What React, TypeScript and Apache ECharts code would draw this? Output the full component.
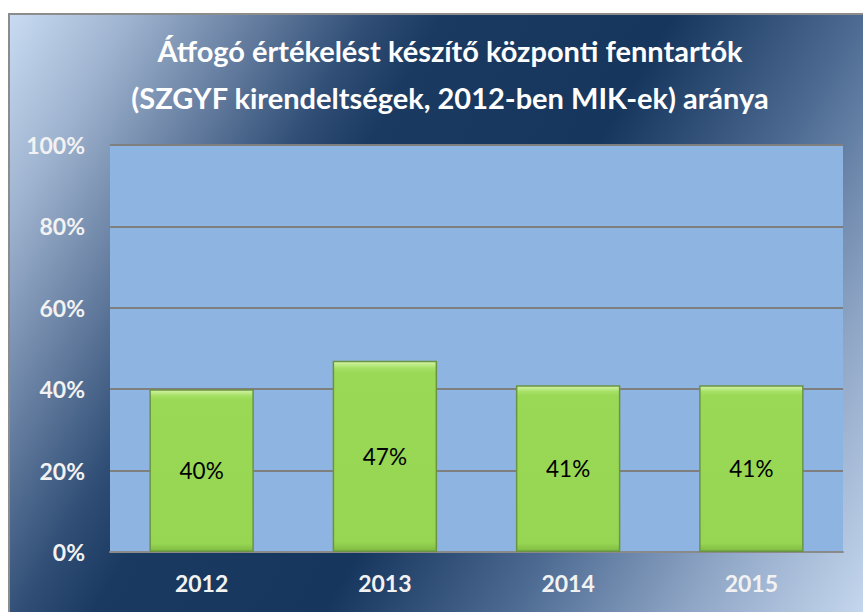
import React, { useEffect, useRef } from "react";
import * as echarts from "echarts";

const titleLines = [
  "Átfogó értékelést készítő központi fenntartók",
  "(SZGYF kirendeltségek, 2012-ben MIK-ek) aránya",
];
const years = ["2012", "2013", "2014", "2015"];
const shares = [40, 47, 41, 41];
const yTicks = [0, 20, 40, 60, 80, 100];

const FONT = "Lato, 'Open Sans', 'DejaVu Sans', sans-serif";

export default function App() {
  const ref = useRef<HTMLDivElement>(null);
  useEffect(() => {
    if (!ref.current) return;
    const chart = echarts.init(ref.current, undefined, { renderer: "svg" });
    chart.setOption({
      animation: false,
      backgroundColor: {
        type: "linear",
        x: 0,
        y: 0,
        x2: 897,
        y2: 526,
        global: true,
        colorStops: [
          { offset: 0, color: "#c8dbf2" },
          { offset: 0.1, color: "#9eb3cf" },
          { offset: 0.2, color: "#6880a2" },
          { offset: 0.3, color: "#2f4d75" },
          { offset: 0.36, color: "#1b3a62" },
          { offset: 0.55, color: "#17365d" },
          { offset: 0.7, color: "#4a6890" },
          { offset: 0.85, color: "#8ea5c5" },
          { offset: 1, color: "#c5d7ee" },
        ],
      },
      title: {
        text: titleLines.join("\n"),
        left: 435,
        top: 7,
        textAlign: "center",
        textStyle: {
          color: "#ffffff",
          fontFamily: FONT,
          fontWeight: "bold",
          fontSize: 29,
          lineHeight: 47,
        },
      },
      grid: {
        left: 100,
        top: 130,
        width: 733,
        height: 407,
        show: true,
        backgroundColor: "#8eb4e2",
        borderWidth: 0,
      },
      xAxis: {
        type: "category",
        data: years,
        axisLine: { show: true, lineStyle: { color: "#8a8a8a", width: 2 } },
        axisTick: { show: false },
        axisLabel: {
          color: "#f2f2f2",
          fontFamily: FONT,
          fontWeight: "bold",
          fontSize: 23,
          margin: 19,
        },
      },
      yAxis: {
        type: "value",
        min: yTicks[0],
        max: yTicks[yTicks.length - 1],
        interval: 20,
        axisLine: { show: false },
        axisTick: { show: false },
        splitLine: { show: true, lineStyle: { color: "#7f7f7f", width: 2 } },
        axisLabel: {
          color: "#f2f2f2",
          fontFamily: FONT,
          fontWeight: "bold",
          fontSize: 23,
          margin: 25,
          formatter: "{value}%",
        },
      },
      series: [
        {
          type: "bar",
          data: shares,
          barWidth: "57%",
          itemStyle: {
            color: {
              type: "linear",
              x: 0,
              y: 0,
              x2: 0,
              y2: 1,
              colorStops: [
                { offset: 0, color: "#d6f5a8" },
                { offset: 0.035, color: "#a6e066" },
                { offset: 0.06, color: "#99d955" },
                { offset: 0.95, color: "#97d653" },
                { offset: 1, color: "#7fba42" },
              ],
            },
            borderColor: "#6b9442",
            borderWidth: 1.5,
          },
          label: {
            show: true,
            position: "inside",
            formatter: "{c}%",
            color: "#000000",
            fontFamily: FONT,
            fontSize: 22.5,
          },
        },
      ],
    });
    return () => chart.dispose();
  }, []);
  return (
    <div
      style={{
        position: "fixed",
        left: 0,
        top: 0,
        width: 863,
        height: 612,
        overflow: "hidden",
        background: "#ffffff",
      }}
    >
      <div
        style={{
          position: "absolute",
          left: 8,
          top: 13,
          width: 880,
          height: 620,
          borderLeft: "2px solid #8c8c8c",
          borderTop: "2px solid #8c8c8c",
        }}
      >
        <div ref={ref} style={{ width: 880, height: 620 }} />
      </div>
    </div>
  );
}
